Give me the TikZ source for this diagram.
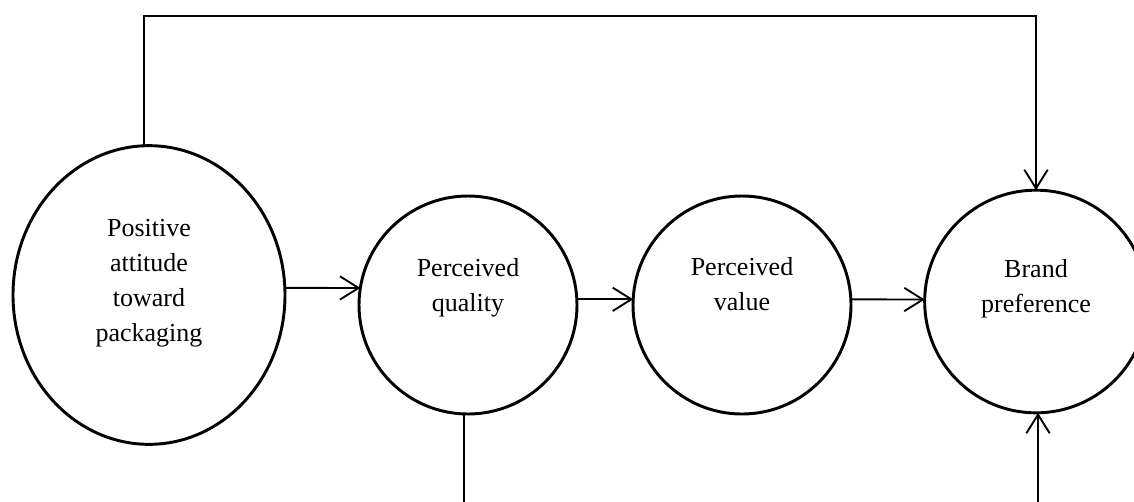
\documentclass[tikz,border=0pt]{standalone}
\usepackage{fontspec}
\setmainfont{Liberation Serif}
\usetikzlibrary{arrows.meta,shapes.geometric}
\begin{document}
\begin{tikzpicture}[x=0.75pt,y=-0.75pt,
  bubble/.style={draw, ellipse, line width=2.2pt, inner sep=0pt, outer sep=0pt},
  lbl/.style={align=center, font=\fontsize{19.5}{26.25}\selectfont, inner sep=0pt},
  conn/.style={line width=1.4pt, -{Straight Barb[length=14pt,width=17.5pt,line width=1.4pt]}},
  plain/.style={line width=1.4pt}]
\useasboundingbox (0,0) rectangle (1134,501);
\clip (0,0) rectangle (1134,501);
% shapes
\node[bubble, minimum width=204pt, minimum height=224pt] (pos) at (149,295) {};
\node[bubble, minimum width=163.5pt, minimum height=163.5pt] (qual) at (468,305) {};
\node[bubble, minimum width=163.5pt, minimum height=163.5pt] (val) at (742,305) {};
\node[bubble, minimum width=167pt, minimum height=167pt] (brand) at (1036,301.5) {};
% labels
\node[lbl] (tpos) at (149,283) {Positive\\attitude\\toward\\packaging};
\node[lbl] (tqual) at (468,287.5) {Perceived\\quality};
\node[lbl] (tval) at (742,284) {Perceived\\value};
\node[lbl] (tbrand) at (1036,288.5) {Brand\\preference};
% helper coordinates
\coordinate (tl) at (143,16);
\coordinate (tr) at (1036,16);
\coordinate (qbot) at (463,520);
\coordinate (bbot) at (1038,520);
% connectors
\draw[conn] (pos.3) -- (qual.171);
\draw[conn] (qual.3) -- (val.177);
\draw[conn] (val.3) -- (brand.179);
\draw[conn] (pos.92) -- (pos.92 |- tl) -- (tr) -- (brand.north);
\draw[plain] (qual.268) -- (qual.268 |- qbot);
\draw[conn] (bbot) -- (bbot |- brand.south);
\end{tikzpicture}
\end{document}
